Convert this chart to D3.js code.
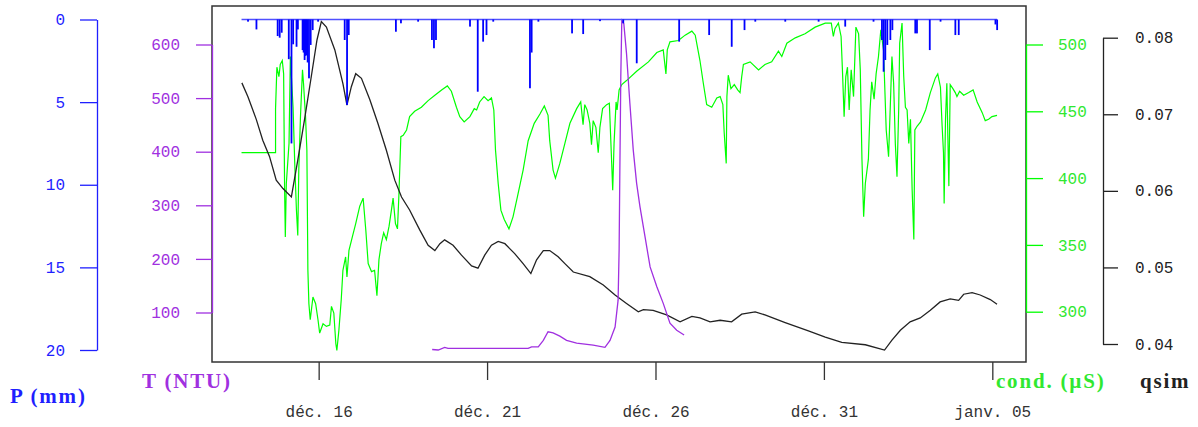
<!DOCTYPE html>
<html>
<head>
<meta charset="utf-8">
<script src="https://cdn.jsdelivr.net/npm/d3@7"></script>
<style>
  body { margin: 0; background: #fff; }
</style>
</head>
<body>
<svg id="chart"></svg>
<script>
const width = 1198, height = 427;

// time is in "days of December" (32 = 1 Jan, 36 = 5 Jan)
const xStart = 12.8333, xEnd = 37;
const xTickDays = [16, 21, 26, 31, 36];
const xTickLabels = ["déc. 16", "déc. 21", "déc. 26", "déc. 31", "janv. 05"];

const pTicks = [0, 5, 10, 15, 20];
const tTicks = [100, 200, 300, 400, 500, 600];
const condTicks = [300, 350, 400, 450, 500];
const qTicks = [0.04, 0.05, 0.06, 0.07, 0.08];

// rainfall P (mm) : [day, mm]
const rainPeriod = [13.71, 36.14];
const rain = [
  [13.90, 0.13], [14.15, 0.6], [14.78, 1.0], [14.84, 1.1], [14.90, 0.8],
  [15.11, 2.4], [15.19, 7.5], [15.24, 1.5], [15.34, 1.65], [15.38, 0.6],
  [15.52, 1.85], [15.55, 2.0], [15.58, 2.45], [15.61, 2.2], [15.64, 2.15], [15.67, 2.6],
  [15.71, 3.56], [15.76, 1.54], [15.82, 0.64], [15.98, 0.13],
  [16.77, 1.24], [16.84, 5.17], [16.89, 0.94],
  [18.29, 0.74], [18.44, 0.23], [18.95, 0.13],
  [19.36, 1.24], [19.42, 1.74], [19.48, 1.24],
  [20.49, 0.43], [20.72, 4.37], [20.88, 1.34], [20.98, 0.94], [21.18, 0.13],
  [22.27, 4.16], [22.32, 2.0], [22.52, 0.13],
  [23.52, 0.84], [23.85, 0.88], [24.35, 0.1],
  [25.04, 0.23], [25.44, 2.65], [26.70, 1.34], [27.59, 0.94],
  [28.26, 1.65], [28.64, 0.64], [28.96, 0.13], [29.85, 0.13], [30.84, 0.13], [31.63, 0.43],
  [32.47, 0.13], [32.72, 1.24], [32.77, 3.16], [32.82, 2.45], [32.88, 1.54], [32.97, 1.24], [33.03, 0.64],
  [33.71, 0.84], [33.76, 0.84], [34.14, 1.85], [34.46, 0.13], [34.90, 0.94], [35.00, 0.94],
  [36.09, 0.3], [36.14, 0.64]
];

// turbidity T (NTU)
const turbidity = [
  [19.37, 31], [19.55, 30], [19.74, 35], [19.84, 33], [22.22, 33], [22.32, 36], [22.52, 36],
  [22.67, 48], [22.81, 64], [22.96, 62], [23.16, 56], [23.36, 48], [23.66, 43], [24.15, 39],
  [24.50, 35], [24.65, 48], [24.80, 73], [24.89, 123], [24.92, 216], [24.94, 353], [24.97, 540],
  [25.00, 645], [25.06, 639], [25.14, 583], [25.24, 490], [25.34, 403], [25.44, 341], [25.54, 297],
  [25.69, 241], [25.84, 185], [26.04, 148], [26.23, 117], [26.43, 80], [26.63, 67], [26.85, 58]
];

// conductivity (µS)
const conductivity = [
  [13.71, 419], [14.72, 419], [14.72, 452], [14.76, 483], [14.82, 476], [14.86, 485], [14.92, 488],
  [14.96, 478], [14.99, 389], [15.01, 356], [15.04, 396], [15.12, 426], [15.16, 491], [15.19, 476],
  [15.24, 453], [15.29, 411], [15.34, 376], [15.38, 357], [15.41, 406], [15.46, 446], [15.52, 481],
  [15.55, 471], [15.61, 446], [15.65, 421], [15.68, 331], [15.71, 306], [15.75, 294], [15.83, 311],
  [15.91, 306], [15.98, 294], [16.03, 284], [16.13, 291], [16.23, 289], [16.33, 290], [16.38, 304],
  [16.45, 299], [16.51, 276], [16.54, 271], [16.60, 286], [16.67, 309], [16.72, 331], [16.80, 341],
  [16.84, 326], [16.90, 346], [17.00, 356], [17.10, 366], [17.22, 379], [17.32, 385], [17.40, 361],
  [17.47, 336], [17.57, 330], [17.66, 331], [17.73, 312], [17.79, 339], [17.86, 351], [17.93, 359],
  [18.01, 354], [18.09, 364], [18.16, 376], [18.21, 385], [18.28, 366], [18.34, 362], [18.38, 386],
  [18.44, 431], [18.51, 432], [18.61, 436], [18.70, 446], [18.85, 450], [19.05, 453], [19.25, 458],
  [19.45, 462], [19.65, 466], [19.82, 469], [19.94, 465], [20.09, 453], [20.19, 446], [20.32, 442],
  [20.49, 446], [20.62, 452], [20.69, 451], [20.78, 457], [20.91, 461], [21.03, 458], [21.13, 460],
  [21.20, 451], [21.25, 421], [21.33, 396], [21.41, 376], [21.51, 369], [21.65, 362], [21.77, 371],
  [21.90, 386], [22.07, 406], [22.22, 428], [22.40, 441], [22.57, 448], [22.70, 454], [22.81, 447],
  [22.86, 428], [22.96, 406], [23.03, 400], [23.16, 411], [23.31, 426], [23.46, 441], [23.66, 452],
  [23.78, 457], [23.85, 440], [23.90, 455], [23.97, 451], [24.05, 441], [24.10, 425], [24.15, 443],
  [24.23, 438], [24.30, 419], [24.35, 438], [24.43, 452], [24.55, 455], [24.63, 456], [24.70, 411],
  [24.73, 391], [24.77, 426], [24.83, 457], [24.86, 451], [24.92, 466], [25.00, 470], [25.14, 473],
  [25.44, 480], [25.79, 487], [26.04, 494], [26.23, 496], [26.31, 478], [26.35, 496], [26.43, 502],
  [26.68, 503], [26.88, 507], [27.08, 510], [27.18, 507], [27.32, 488], [27.42, 471], [27.52, 455],
  [27.67, 453], [27.82, 460], [27.92, 461], [28.00, 455], [28.04, 434], [28.10, 411], [28.12, 461],
  [28.16, 477], [28.24, 467], [28.34, 470], [28.44, 466], [28.51, 464], [28.56, 476], [28.61, 485],
  [28.81, 487], [29.06, 481], [29.25, 485], [29.45, 487], [29.65, 495], [29.75, 491], [29.90, 501],
  [30.15, 505], [30.44, 508], [30.74, 513], [31.04, 516], [31.22, 516], [31.28, 506], [31.33, 512],
  [31.43, 516], [31.51, 506], [31.55, 481], [31.60, 446], [31.65, 476], [31.70, 483], [31.75, 451],
  [31.81, 481], [31.88, 461], [31.95, 513], [32.03, 508], [32.08, 481], [32.13, 414], [32.18, 371],
  [32.23, 396], [32.32, 414], [32.37, 451], [32.42, 472], [32.49, 459], [32.55, 478], [32.62, 491],
  [32.69, 511], [32.77, 496], [32.85, 436], [32.92, 416], [32.97, 453], [33.02, 491], [33.07, 471],
  [33.12, 426], [33.17, 401], [33.22, 451], [33.25, 501], [33.32, 516], [33.37, 476], [33.42, 453],
  [33.47, 451], [33.52, 426], [33.57, 444], [33.62, 391], [33.67, 354], [33.70, 436], [33.77, 439],
  [33.87, 442], [34.02, 451], [34.16, 464], [34.31, 475], [34.38, 478], [34.46, 468], [34.51, 439],
  [34.55, 419], [34.57, 381], [34.61, 444], [34.65, 471], [34.68, 431], [34.71, 394], [34.75, 470],
  [34.83, 467], [34.90, 464], [34.95, 461], [35.03, 465], [35.15, 462], [35.30, 464], [35.43, 466],
  [35.55, 457], [35.70, 449], [35.79, 443], [35.89, 444], [35.99, 446], [36.14, 447]
];

// simulated discharge qsim
const qsim = [
  [13.72, 0.0741], [13.90, 0.0723], [14.15, 0.0693], [14.34, 0.0666], [14.54, 0.0645], [14.74, 0.0614],
  [14.94, 0.0603], [15.19, 0.0592], [15.38, 0.0640], [15.58, 0.0693], [15.78, 0.0749], [15.95, 0.0797],
  [16.08, 0.0821], [16.23, 0.0814], [16.48, 0.0784], [16.72, 0.0740], [16.84, 0.0712], [16.97, 0.0736],
  [17.10, 0.0753], [17.27, 0.0747], [17.52, 0.0719], [17.76, 0.0688], [18.01, 0.0653], [18.26, 0.0614],
  [18.46, 0.0592], [18.70, 0.0575], [19.00, 0.0549], [19.25, 0.0529], [19.45, 0.0522], [19.60, 0.0531],
  [19.74, 0.0536], [19.99, 0.0529], [20.24, 0.0516], [20.54, 0.0502], [20.73, 0.0499], [20.93, 0.0516],
  [21.13, 0.0529], [21.33, 0.0534], [21.53, 0.0531], [21.82, 0.0518], [22.07, 0.0505], [22.30, 0.0492],
  [22.47, 0.0510], [22.67, 0.0522], [22.86, 0.0522], [23.11, 0.0514], [23.31, 0.0505], [23.56, 0.0494],
  [24.05, 0.0488], [24.45, 0.0477], [24.80, 0.0464], [25.14, 0.0453], [25.49, 0.0442], [25.64, 0.0445],
  [25.93, 0.0444], [26.33, 0.0438], [26.73, 0.0429], [27.08, 0.0436], [27.32, 0.0434], [27.62, 0.0429],
  [27.92, 0.0431], [28.26, 0.0429], [28.56, 0.0439], [28.96, 0.0442], [29.25, 0.0438], [29.85, 0.0428],
  [30.54, 0.0417], [31.04, 0.0409], [31.53, 0.0402], [32.23, 0.0399], [32.80, 0.0392], [33.02, 0.0405],
  [33.27, 0.0418], [33.56, 0.0429], [33.86, 0.0434], [34.16, 0.0444], [34.45, 0.0455], [34.75, 0.0459],
  [35.00, 0.0457], [35.15, 0.0465], [35.40, 0.0467], [35.64, 0.0464], [35.94, 0.0458], [36.14, 0.0452]
];

const day0 = new Date(2012, 11, 1);
const toDate = d => new Date(day0.getTime() + (d - 1) * 864e5);

const blue = "#1f1fff", purple = "#a030e0", green = "#00ff00", greenText = "#30e830", dark = "#222";
const tickFont = "'Liberation Mono', 'Courier New', monospace";
const titleFont = "'Liberation Serif', serif";

const svg = d3.select("#chart")
  .attr("width", width)
  .attr("height", height);

// plot box
const box = { left: 212, right: 1026, top: 6, bottom: 362 };

const x = d3.scaleTime()
  .domain([toDate(xStart), toDate(xEnd)])
  .range([box.left, box.right]);
const yP = d3.scaleLinear().domain([0, 20]).range([19.5, 350]);
const yT = d3.scaleLinear().domain([100, 600]).range([312.5, 44.5]);
const yC = d3.scaleLinear().domain([300, 500]).range([311.7, 44.5]);
const yQ = d3.scaleLinear().domain([0.04, 0.08]).range([344, 37.7]);

// frame
svg.append("rect")
  .attr("x", box.left).attr("y", box.top)
  .attr("width", box.right - box.left).attr("height", box.bottom - box.top)
  .attr("fill", "none").attr("stroke", "#333").attr("stroke-width", 1.5);

// lines
const lineOf = yScale => d3.line().x(d => x(toDate(d[0]))).y(d => yScale(d[1]));

svg.append("path")
  .datum(conductivity)
  .attr("fill", "none").attr("stroke", green).attr("stroke-width", 1.2)
  .attr("d", lineOf(yC));

svg.append("path")
  .datum(qsim)
  .attr("fill", "none").attr("stroke", dark).attr("stroke-width", 1.3)
  .attr("d", lineOf(yQ));

svg.append("path")
  .datum(turbidity)
  .attr("fill", "none").attr("stroke", purple).attr("stroke-width", 1.3)
  .attr("d", lineOf(yT));

// rain hanging from the top
svg.append("line")
  .attr("x1", x(toDate(rainPeriod[0]))).attr("x2", x(toDate(rainPeriod[1])))
  .attr("y1", yP(0)).attr("y2", yP(0))
  .attr("stroke", "#5050ff").attr("stroke-width", 1.5);

svg.selectAll("rect.rain")
  .data(rain)
  .enter().append("rect")
  .attr("class", "rain")
  .attr("x", d => x(toDate(d[0])) - 0.8)
  .attr("width", 1.8)
  .attr("y", yP(0))
  .attr("height", d => yP(d[1]) - yP(0))
  .attr("fill", "#0000ff");

// axes
function styleAxis(g, color) {
  g.attr("color", color)
    .attr("font-family", tickFont)
    .attr("font-size", 16);
  g.selectAll("path, line").attr("stroke-width", 1.3);
}

svg.append("g")
  .attr("transform", "translate(97,0)")
  .call(d3.axisLeft(yP).tickValues(pTicks).tickSize(17).tickSizeOuter(0).tickPadding(15))
  .call(g => styleAxis(g, blue));

svg.append("g")
  .attr("transform", `translate(${box.left},0)`)
  .call(d3.axisLeft(yT).tickValues(tTicks).tickSize(16).tickSizeOuter(0).tickPadding(16))
  .call(g => styleAxis(g, purple));

svg.append("g")
  .attr("transform", `translate(${box.right},0)`)
  .call(d3.axisRight(yC).tickValues(condTicks).tickSize(17).tickSizeOuter(0).tickPadding(15))
  .call(g => styleAxis(g, green))
  .call(g => g.selectAll("text").attr("fill", greenText));

svg.append("g")
  .attr("transform", "translate(1103,0)")
  .call(d3.axisRight(yQ).tickValues(qTicks).tickSize(15).tickSizeOuter(0).tickPadding(17)
    .tickFormat(d3.format(".2f")))
  .call(g => styleAxis(g, dark));

svg.append("g")
  .attr("transform", `translate(0,${box.bottom})`)
  .call(d3.axisBottom(x).tickValues(xTickDays.map(toDate)).tickSize(18).tickSizeOuter(0).tickPadding(26)
    .tickFormat((d, i) => xTickLabels[i]))
  .call(g => styleAxis(g, "#333"))
  .call(g => g.select(".domain").remove());

// axis titles
const titles = [
  { text: "P (mm)", x: 10, y: 403, color: blue },
  { text: "T (NTU)", x: 142, y: 388, color: purple },
  { text: "cond. (µS)", x: 996, y: 388, color: greenText },
  { text: "qsim", x: 1140, y: 388, color: dark }
];
svg.selectAll("text.title")
  .data(titles)
  .enter().append("text")
  .attr("class", "title")
  .attr("x", d => d.x).attr("y", d => d.y)
  .attr("fill", d => d.color)
  .attr("font-family", titleFont)
  .attr("font-weight", "bold")
  .attr("font-size", 21)
  .attr("letter-spacing", 1.8)
  .text(d => d.text);
</script>
</body>
</html>
